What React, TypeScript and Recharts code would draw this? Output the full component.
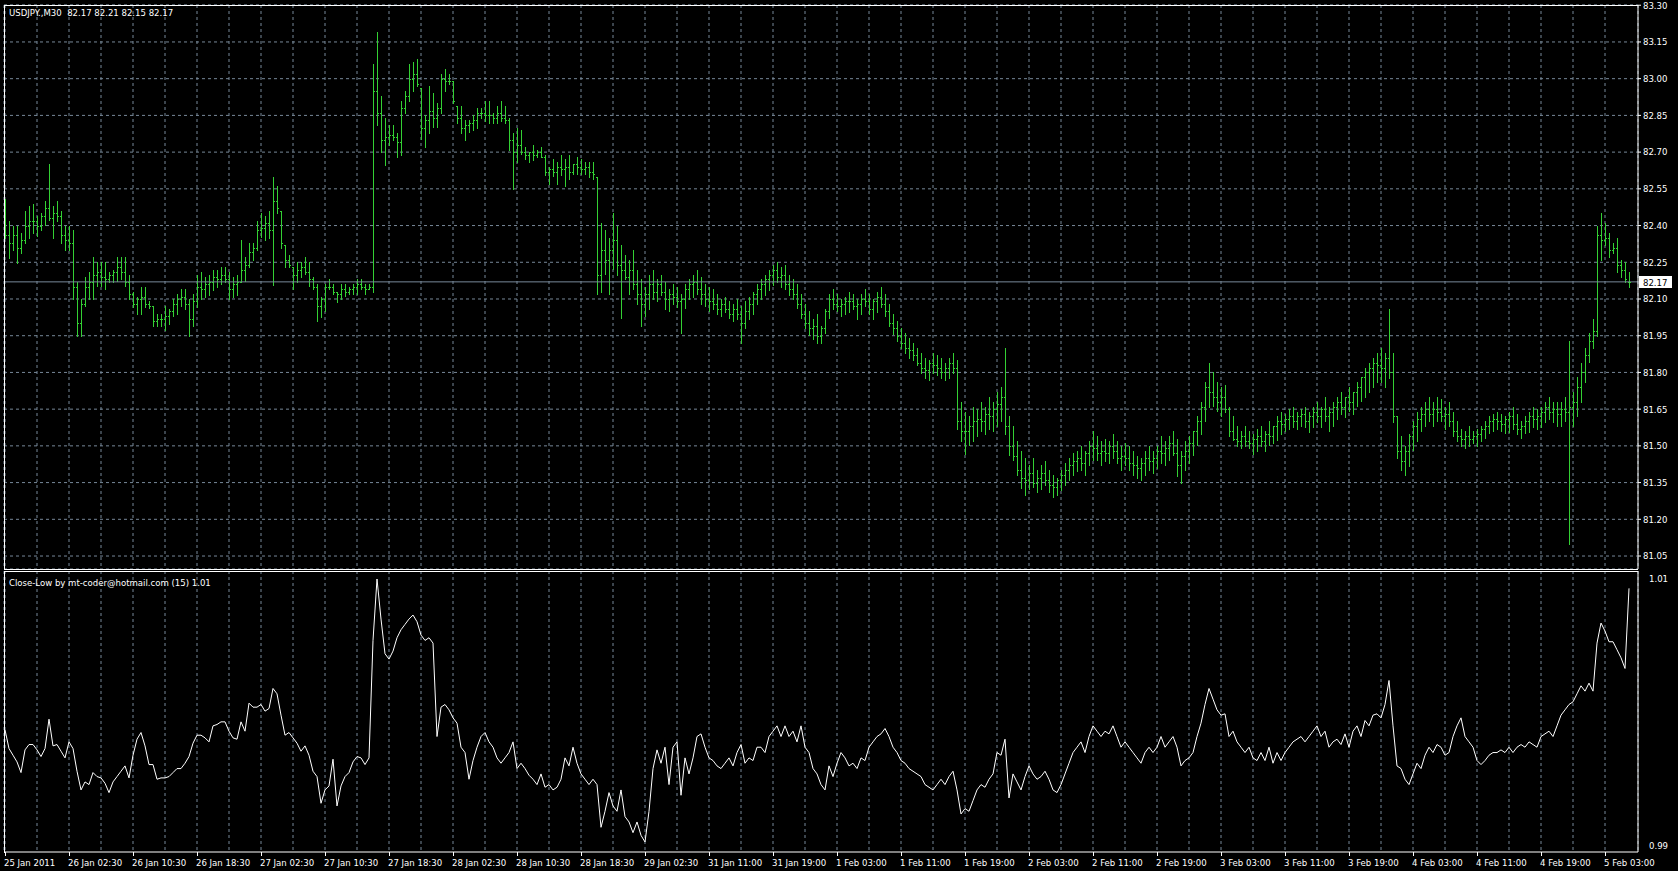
import { ComposedChart, Bar, Scatter, Line, XAxis, YAxis, CartesianGrid, ReferenceLine } from "recharts"

// USDJPY M30, one entry per bar (25 Jan 2011 18:30 .. 5 Feb 2011 03:00)
const highs = [
  82.51, 82.42, 82.40, 82.40, 82.37, 82.46, 82.48, 82.49, 82.44, 82.45,
  82.50, 82.65, 82.48, 82.50, 82.46, 82.40, 82.40, 82.38, 82.17, 82.10,
  82.19, 82.21, 82.27, 82.25, 82.25, 82.25, 82.21, 82.22, 82.27, 82.27,
  82.27, 82.20, 82.13, 82.11, 82.15, 82.15, 82.09, 82.07, 82.04, 82.04,
  82.07, 82.06, 82.10, 82.12, 82.14, 82.14, 82.10, 82.12, 82.20, 82.21,
  82.19, 82.20, 82.22, 82.22, 82.23, 82.23, 82.21, 82.19, 82.20, 82.34,
  82.27, 82.33, 82.33, 82.42, 82.45, 82.44, 82.46, 82.60, 82.56, 82.46,
  82.32, 82.28, 82.23, 82.25, 82.25, 82.27, 82.25, 82.19, 82.16, 82.11,
  82.16, 82.18, 82.16, 82.13, 82.16, 82.16, 82.15, 82.16, 82.18, 82.18,
  82.16, 82.16, 83.06, 83.19, 82.93, 82.84, 82.81, 82.81, 82.78, 82.91,
  82.95, 83.06, 83.07, 83.08, 82.96, 82.85, 82.97, 82.94, 82.90, 83.02,
  83.04, 83.02, 82.99, 82.89, 82.89, 82.83, 82.83, 82.85, 82.88, 82.88,
  82.91, 82.91, 82.86, 82.89, 82.91, 82.89, 82.84, 82.78, 82.80, 82.79,
  82.72, 82.70, 82.73, 82.71, 82.72, 82.69, 82.64, 82.67, 82.66, 82.69,
  82.67, 82.69, 82.65, 82.68, 82.67, 82.66, 82.66, 82.66, 82.60, 82.41,
  82.38, 82.35, 82.45, 82.40, 82.32, 82.28, 82.26, 82.30, 82.22, 82.18,
  82.15, 82.20, 82.22, 82.18, 82.20, 82.17, 82.14, 82.16, 82.15, 82.12,
  82.16, 82.18, 82.20, 82.22, 82.19, 82.16, 82.15, 82.14, 82.12, 82.10,
  82.11, 82.09, 82.08, 82.10, 82.07, 82.09, 82.11, 82.13, 82.16, 82.18,
  82.20, 82.22, 82.24, 82.25, 82.23, 82.24, 82.20, 82.18, 82.16, 82.12,
  82.08, 82.05, 82.02, 82.04, 81.99, 82.06, 82.12, 82.14, 82.12, 82.10,
  82.11, 82.13, 82.12, 82.10, 82.12, 82.14, 82.12, 82.10, 82.13, 82.15,
  82.12, 82.08, 82.04, 82.01, 81.98, 81.96, 81.94, 81.92, 81.90, 81.88,
  81.86, 81.85, 81.88, 81.87, 81.86, 81.84, 81.86, 81.88, 81.85, 81.68,
  81.64, 81.62, 81.66, 81.65, 81.68, 81.66, 81.70, 81.68, 81.72, 81.74,
  81.90, 81.62, 81.58, 81.52, 81.48, 81.45, 81.42, 81.45, 81.40, 81.42,
  81.44, 81.40, 81.38, 81.37, 81.40, 81.43, 81.45, 81.47, 81.48, 81.50,
  81.48, 81.52, 81.56, 81.54, 81.52, 81.53, 81.52, 81.55, 81.52, 81.50,
  81.51, 81.50, 81.48, 81.46, 81.45, 81.48, 81.50, 81.48, 81.50, 81.54,
  81.52, 81.54, 81.56, 81.53, 81.48, 81.52, 81.54, 81.56, 81.62, 81.68,
  81.76, 81.84, 81.80, 81.76, 81.74, 81.75, 81.66, 81.62, 81.58, 81.56,
  81.58, 81.56, 81.55, 81.57, 81.58, 81.56, 81.60, 81.58, 81.62, 81.64,
  81.63, 81.65, 81.66, 81.64, 81.65, 81.66, 81.64, 81.66, 81.68, 81.66,
  81.70, 81.66, 81.68, 81.70, 81.72, 81.70, 81.74, 81.72, 81.76, 81.78,
  81.82, 81.84, 81.86, 81.88, 81.90, 81.88, 82.06, 81.88, 81.62, 81.54,
  81.50, 81.55, 81.60, 81.64, 81.66, 81.68, 81.70, 81.68, 81.70, 81.69,
  81.66, 81.68, 81.64, 81.60, 81.57, 81.56, 81.58, 81.56, 81.57, 81.58,
  81.60, 81.62, 81.63, 81.64, 81.63, 81.62, 81.64, 81.66, 81.63, 81.60,
  81.62, 81.64, 81.66, 81.65, 81.66, 81.68, 81.70, 81.68, 81.68, 81.68,
  81.70, 81.93, 81.72, 81.78, 81.84, 81.90, 81.96, 82.02, 82.40, 82.45,
  82.41, 82.37, 82.33, 82.35, 82.26, 82.25, 82.21,
]

const lows = [
  82.35, 82.27, 82.30, 82.25, 82.29, 82.33, 82.35, 82.37, 82.36, 82.38,
  82.40, 82.42, 82.35, 82.42, 82.33, 82.30, 82.30, 82.10, 81.95, 81.95,
  82.07, 82.10, 82.10, 82.15, 82.15, 82.14, 82.17, 82.17, 82.17, 82.18,
  82.15, 82.10, 82.07, 82.04, 82.04, 82.07, 82.06, 81.99, 81.99, 81.99,
  81.97, 82.00, 82.03, 82.04, 82.07, 82.06, 81.95, 81.99, 82.07, 82.10,
  82.11, 82.12, 82.14, 82.15, 82.16, 82.17, 82.10, 82.11, 82.12, 82.17,
  82.17, 82.23, 82.26, 82.30, 82.35, 82.34, 82.35, 82.16, 82.45, 82.31,
  82.23, 82.23, 82.14, 82.17, 82.19, 82.20, 82.15, 82.14, 82.01, 82.03,
  82.05, 82.14, 82.12, 82.09, 82.10, 82.11, 82.12, 82.12, 82.12, 82.14,
  82.12, 82.14, 82.13, 82.81, 82.70, 82.65, 82.73, 82.75, 82.68, 82.69,
  82.86, 82.91, 82.95, 82.97, 82.75, 82.72, 82.78, 82.80, 82.80, 82.86,
  82.95, 82.98, 82.90, 82.82, 82.78, 82.75, 82.78, 82.79, 82.80, 82.84,
  82.83, 82.82, 82.82, 82.82, 82.83, 82.82, 82.71, 82.55, 82.66, 82.69,
  82.67, 82.66, 82.67, 82.68, 82.68, 82.61, 82.57, 82.60, 82.57, 82.61,
  82.56, 82.59, 82.61, 82.61, 82.61, 82.61, 82.60, 82.59, 82.12, 82.13,
  82.20, 82.12, 82.22, 82.20, 82.02, 82.18, 82.12, 82.14, 82.08, 81.99,
  82.03, 82.06, 82.10, 82.09, 82.12, 82.06, 82.05, 82.08, 82.07, 81.96,
  82.06, 82.10, 82.11, 82.12, 82.08, 82.07, 82.05, 82.06, 82.04, 82.03,
  82.05, 82.02, 82.01, 82.02, 81.92, 81.98, 82.02, 82.04, 82.08, 82.10,
  82.12, 82.14, 82.16, 82.17, 82.15, 82.14, 82.12, 82.10, 82.06, 82.02,
  81.98, 81.95, 81.94, 81.92, 81.92, 81.96, 82.02, 82.06, 82.05, 82.03,
  82.04, 82.05, 82.06, 82.02, 82.04, 82.07, 82.04, 82.02, 82.05, 82.07,
  82.03, 81.99, 81.96, 81.93, 81.90, 81.88, 81.86, 81.85, 81.83, 81.80,
  81.78, 81.77, 81.80, 81.79, 81.78, 81.77, 81.78, 81.80, 81.57, 81.52,
  81.47, 81.50, 81.52, 81.54, 81.56, 81.55, 81.57, 81.56, 81.58, 81.60,
  81.55, 81.46, 81.44, 81.38, 81.33, 81.30, 81.32, 81.33, 81.31, 81.32,
  81.34, 81.31, 81.29, 81.30, 81.32, 81.34, 81.36, 81.38, 81.40, 81.40,
  81.38, 81.42, 81.44, 81.44, 81.42, 81.44, 81.43, 81.45, 81.43, 81.40,
  81.42, 81.40, 81.38, 81.37, 81.36, 81.38, 81.40, 81.39, 81.41, 81.43,
  81.42, 81.44, 81.46, 81.38, 81.35, 81.40, 81.43, 81.46, 81.50, 81.55,
  81.60, 81.66, 81.66, 81.64, 81.62, 81.64, 81.54, 81.52, 81.50, 81.49,
  81.50, 81.49, 81.47, 81.48, 81.50, 81.48, 81.50, 81.51, 81.52, 81.55,
  81.56, 81.57, 81.58, 81.57, 81.58, 81.58, 81.56, 81.58, 81.60, 81.58,
  81.60, 81.56, 81.58, 81.61, 81.63, 81.62, 81.64, 81.63, 81.66, 81.68,
  81.70, 81.72, 81.74, 81.76, 81.76, 81.74, 81.78, 81.60, 81.45, 81.40,
  81.38, 81.42, 81.48, 81.52, 81.56, 81.58, 81.60, 81.58, 81.60, 81.60,
  81.57, 81.58, 81.54, 81.52, 81.50, 81.49, 81.50, 81.51, 81.50, 81.52,
  81.53, 81.55, 81.56, 81.57, 81.56, 81.55, 81.56, 81.57, 81.55, 81.53,
  81.55, 81.56, 81.58, 81.57, 81.58, 81.60, 81.61, 81.60, 81.58, 81.58,
  81.60, 81.10, 81.58, 81.62, 81.68, 81.76, 81.84, 81.90, 81.95, 82.26,
  82.32, 82.27, 82.29, 82.21, 82.19, 82.17, 82.15,
]

const opens = [
  82.42, 82.36, 82.33, 82.36, 82.31, 82.34, 82.40, 82.42, 82.42, 82.40,
  82.44, 82.47, 82.43, 82.45, 82.44, 82.36, 82.34, 82.33, 82.15, 82.00,
  82.08, 82.15, 82.17, 82.20, 82.21, 82.19, 82.18, 82.20, 82.21, 82.23,
  82.21, 82.17, 82.12, 82.08, 82.10, 82.11, 82.08, 82.07, 82.01, 82.02,
  82.02, 82.03, 82.05, 82.08, 82.10, 82.11, 82.08, 82.02, 82.09, 82.15,
  82.14, 82.16, 82.17, 82.19, 82.18, 82.20, 82.18, 82.14, 82.16, 82.17,
  82.22, 82.24, 82.29, 82.31, 82.38, 82.39, 82.41, 82.38, 82.50, 82.46,
  82.32, 82.26, 82.23, 82.20, 82.22, 82.23, 82.21, 82.18, 82.15, 82.07,
  82.10, 82.15, 82.15, 82.13, 82.12, 82.14, 82.13, 82.14, 82.15, 82.16,
  82.15, 82.14, 82.15, 82.95, 82.86, 82.75, 82.76, 82.77, 82.76, 82.74,
  82.88, 82.93, 83.00, 83.02, 82.96, 82.80, 82.83, 82.87, 82.84, 82.88,
  83.00, 82.99, 82.99, 82.89, 82.84, 82.80, 82.81, 82.82, 82.83, 82.86,
  82.86, 82.85, 82.85, 82.84, 82.86, 82.84, 82.83, 82.75, 82.70, 82.73,
  82.70, 82.69, 82.70, 82.69, 82.70, 82.68, 82.62, 82.63, 82.62, 82.64,
  82.63, 82.64, 82.62, 82.65, 82.64, 82.63, 82.64, 82.62, 82.60, 82.20,
  82.30, 82.26, 82.30, 82.34, 82.24, 82.22, 82.19, 82.22, 82.16, 82.12,
  82.08, 82.12, 82.16, 82.13, 82.16, 82.13, 82.10, 82.12, 82.11, 82.09,
  82.10, 82.14, 82.16, 82.17, 82.14, 82.12, 82.10, 82.09, 82.08, 82.06,
  82.08, 82.06, 82.04, 82.06, 82.04, 82.00, 82.05, 82.08, 82.12, 82.14,
  82.16, 82.18, 82.20, 82.22, 82.19, 82.20, 82.16, 82.14, 82.12, 82.08,
  82.04, 82.00, 81.98, 81.99, 81.95, 81.98, 82.05, 82.10, 82.08, 82.07,
  82.08, 82.09, 82.09, 82.07, 82.08, 82.10, 82.09, 82.06, 82.09, 82.11,
  82.08, 82.05, 82.00, 81.98, 81.95, 81.92, 81.90, 81.89, 81.87, 81.84,
  81.82, 81.81, 81.84, 81.83, 81.82, 81.80, 81.82, 81.84, 81.82, 81.60,
  81.56, 81.56, 81.58, 81.60, 81.61, 81.60, 81.63, 81.62, 81.65, 81.67,
  81.70, 81.58, 81.50, 81.46, 81.40, 81.37, 81.36, 81.39, 81.35, 81.37,
  81.39, 81.36, 81.34, 81.33, 81.36, 81.38, 81.40, 81.42, 81.44, 81.45,
  81.43, 81.47, 81.50, 81.49, 81.47, 81.48, 81.47, 81.50, 81.48, 81.45,
  81.46, 81.45, 81.43, 81.42, 81.41, 81.43, 81.45, 81.44, 81.45, 81.48,
  81.47, 81.49, 81.51, 81.47, 81.42, 81.46, 81.48, 81.51, 81.56, 81.60,
  81.66, 81.74, 81.72, 81.70, 81.68, 81.70, 81.65, 81.56, 81.53, 81.52,
  81.54, 81.52, 81.51, 81.53, 81.54, 81.52, 81.55, 81.54, 81.58, 81.60,
  81.59, 81.61, 81.62, 81.60, 81.62, 81.63, 81.60, 81.62, 81.64, 81.62,
  81.65, 81.62, 81.64, 81.66, 81.68, 81.66, 81.70, 81.68, 81.72, 81.74,
  81.78, 81.80, 81.82, 81.84, 81.83, 81.82, 81.86, 81.80, 81.62, 81.48,
  81.44, 81.48, 81.54, 81.58, 81.61, 81.63, 81.65, 81.63, 81.65, 81.64,
  81.62, 81.63, 81.60, 81.56, 81.54, 81.53, 81.54, 81.53, 81.54, 81.55,
  81.57, 81.58, 81.60, 81.61, 81.60, 81.59, 81.61, 81.62, 81.59, 81.57,
  81.58, 81.60, 81.62, 81.61, 81.62, 81.64, 81.66, 81.64, 81.65, 81.63,
  81.65, 81.64, 81.66, 81.68, 81.74, 81.80, 81.87, 81.93, 81.97, 82.36,
  82.34, 82.35, 82.30, 82.31, 82.24, 82.22, 82.17,
]

const closes = [
  82.36, 82.33, 82.36, 82.31, 82.34, 82.40, 82.42, 82.42, 82.40, 82.44,
  82.47, 82.43, 82.45, 82.44, 82.36, 82.34, 82.33, 82.15, 82.00, 82.08,
  82.15, 82.17, 82.20, 82.21, 82.19, 82.18, 82.20, 82.21, 82.23, 82.21,
  82.17, 82.12, 82.08, 82.10, 82.11, 82.08, 82.07, 82.01, 82.02, 82.02,
  82.03, 82.05, 82.08, 82.10, 82.11, 82.08, 82.02, 82.09, 82.15, 82.14,
  82.16, 82.17, 82.19, 82.18, 82.20, 82.18, 82.14, 82.16, 82.17, 82.22,
  82.24, 82.29, 82.31, 82.38, 82.39, 82.41, 82.38, 82.50, 82.47, 82.33,
  82.26, 82.24, 82.20, 82.22, 82.23, 82.21, 82.18, 82.15, 82.07, 82.10,
  82.15, 82.15, 82.13, 82.12, 82.14, 82.13, 82.14, 82.15, 82.16, 82.15,
  82.14, 82.15, 82.95, 82.86, 82.75, 82.76, 82.77, 82.76, 82.74, 82.88,
  82.93, 83.00, 83.02, 82.98, 82.80, 82.83, 82.87, 82.84, 82.88, 83.00,
  82.99, 82.99, 82.91, 82.84, 82.80, 82.81, 82.82, 82.83, 82.86, 82.86,
  82.85, 82.85, 82.84, 82.86, 82.84, 82.83, 82.75, 82.70, 82.73, 82.70,
  82.69, 82.70, 82.69, 82.70, 82.68, 82.62, 82.63, 82.62, 82.64, 82.63,
  82.64, 82.62, 82.65, 82.64, 82.63, 82.64, 82.62, 82.61, 82.20, 82.30,
  82.26, 82.30, 82.34, 82.24, 82.22, 82.19, 82.22, 82.16, 82.12, 82.08,
  82.12, 82.16, 82.13, 82.16, 82.13, 82.10, 82.12, 82.11, 82.09, 82.10,
  82.14, 82.16, 82.17, 82.14, 82.12, 82.10, 82.09, 82.08, 82.06, 82.08,
  82.06, 82.04, 82.06, 82.04, 82.00, 82.05, 82.08, 82.12, 82.14, 82.16,
  82.18, 82.20, 82.22, 82.19, 82.20, 82.16, 82.14, 82.12, 82.08, 82.04,
  82.00, 81.98, 81.99, 81.95, 81.98, 82.05, 82.10, 82.08, 82.07, 82.08,
  82.09, 82.09, 82.07, 82.08, 82.10, 82.09, 82.06, 82.09, 82.11, 82.08,
  82.05, 82.00, 81.98, 81.95, 81.92, 81.90, 81.89, 81.87, 81.84, 81.82,
  81.81, 81.84, 81.83, 81.82, 81.80, 81.82, 81.84, 81.82, 81.60, 81.56,
  81.56, 81.58, 81.60, 81.61, 81.60, 81.63, 81.62, 81.65, 81.67, 81.70,
  81.58, 81.50, 81.46, 81.40, 81.37, 81.36, 81.39, 81.35, 81.37, 81.39,
  81.36, 81.34, 81.33, 81.36, 81.38, 81.40, 81.42, 81.44, 81.45, 81.43,
  81.47, 81.50, 81.49, 81.47, 81.48, 81.47, 81.50, 81.48, 81.45, 81.46,
  81.45, 81.43, 81.42, 81.41, 81.43, 81.45, 81.44, 81.45, 81.48, 81.47,
  81.49, 81.51, 81.47, 81.42, 81.46, 81.48, 81.51, 81.56, 81.60, 81.66,
  81.74, 81.72, 81.70, 81.68, 81.70, 81.65, 81.56, 81.53, 81.52, 81.54,
  81.52, 81.51, 81.53, 81.54, 81.52, 81.55, 81.54, 81.58, 81.60, 81.59,
  81.61, 81.62, 81.60, 81.62, 81.63, 81.60, 81.62, 81.64, 81.62, 81.65,
  81.62, 81.64, 81.66, 81.68, 81.66, 81.70, 81.68, 81.72, 81.74, 81.78,
  81.80, 81.82, 81.84, 81.83, 81.82, 81.86, 81.80, 81.62, 81.48, 81.44,
  81.48, 81.54, 81.58, 81.61, 81.63, 81.65, 81.63, 81.65, 81.64, 81.62,
  81.63, 81.60, 81.56, 81.54, 81.53, 81.54, 81.53, 81.54, 81.55, 81.57,
  81.58, 81.60, 81.61, 81.60, 81.59, 81.61, 81.62, 81.59, 81.57, 81.58,
  81.60, 81.62, 81.61, 81.62, 81.64, 81.66, 81.64, 81.65, 81.63, 81.65,
  81.64, 81.66, 81.68, 81.74, 81.80, 81.87, 81.93, 81.97, 82.36, 82.34,
  82.35, 82.30, 82.31, 82.24, 82.22, 82.18, 82.17,
]

// Close-Low (15) indicator
const closeLow = [
  0.9987, 0.9973, 0.9968, 0.9963, 0.9955, 0.9972, 0.9976, 0.9976, 0.9972, 0.9967,
  0.9973, 0.9995, 0.9975, 0.9976, 0.9971, 0.9966, 0.9978, 0.9973, 0.9956, 0.9942,
  0.9948, 0.9946, 0.9955, 0.9952, 0.9951, 0.9947, 0.9940, 0.9948, 0.9952, 0.9956,
  0.9960, 0.9951, 0.9968, 0.9980, 0.9985, 0.9975, 0.9961, 0.9961, 0.9950, 0.9951,
  0.9951, 0.9952, 0.9955, 0.9958, 0.9958, 0.9962, 0.9967, 0.9977, 0.9983, 0.9983,
  0.9981, 0.9978, 0.9990, 0.9991, 0.9993, 0.9993, 0.9986, 0.9981, 0.9980, 0.9993,
  0.9986, 1.0007, 1.0004, 1.0004, 1.0006, 1.0001, 1.0003, 1.0018, 1.0014, 0.9998,
  0.9983, 0.9985, 0.9981, 0.9977, 0.9971, 0.9975, 0.9968, 0.9956, 0.9952, 0.9932,
  0.9942, 0.9945, 0.9965, 0.9930, 0.9945, 0.9952, 0.9955, 0.9963, 0.9967, 0.9966,
  0.9961, 0.9966, 1.0054, 1.0100, 1.0070, 1.0044, 1.0040, 1.0046, 1.0056, 1.0062,
  1.0066, 1.0070, 1.0073, 1.0068, 1.0058, 1.0054, 1.0056, 1.0052, 0.9982, 1.0004,
  1.0006, 1.0002, 0.9996, 0.9992, 0.9974, 0.9970, 0.9950, 0.9964, 0.9974, 0.9982,
  0.9985, 0.9978, 0.9974, 0.9966, 0.9962, 0.9966, 0.9970, 0.9978, 0.9958, 0.9962,
  0.9958, 0.9953, 0.9950, 0.9946, 0.9954, 0.9944, 0.9946, 0.9942, 0.9944, 0.9950,
  0.9966, 0.9960, 0.9974, 0.9962, 0.9954, 0.9950, 0.9946, 0.9950, 0.9946, 0.9914,
  0.9926, 0.9940, 0.9930, 0.9926, 0.9942, 0.9922, 0.9918, 0.9910, 0.9918, 0.9908,
  0.9903, 0.9926, 0.9958, 0.9972, 0.9962, 0.9974, 0.9946, 0.9974, 0.9978, 0.9938,
  0.9966, 0.9954, 0.9966, 0.9982, 0.9984, 0.9974, 0.9966, 0.9964, 0.9960, 0.9958,
  0.9962, 0.9966, 0.9960, 0.9970, 0.9976, 0.9962, 0.9966, 0.9964, 0.9974, 0.9974,
  0.9970, 0.9982, 0.9986, 0.9990, 0.9982, 0.9990, 0.9982, 0.9986, 0.9978, 0.9990,
  0.9974, 0.9970, 0.9958, 0.9954, 0.9946, 0.9942, 0.9960, 0.9952, 0.9962, 0.9970,
  0.9966, 0.9960, 0.9962, 0.9958, 0.9966, 0.9964, 0.9974, 0.9978, 0.9982, 0.9984,
  0.9988, 0.9982, 0.9974, 0.9970, 0.9964, 0.9962, 0.9958, 0.9956, 0.9954, 0.9952,
  0.9946, 0.9944, 0.9942, 0.9946, 0.9950, 0.9946, 0.9952, 0.9956, 0.9942, 0.9924,
  0.9928, 0.9926, 0.9934, 0.9942, 0.9946, 0.9944, 0.9950, 0.9954, 0.9970, 0.9968,
  0.9980, 0.9936, 0.9954, 0.9948, 0.9942, 0.9952, 0.9960, 0.9954, 0.9950, 0.9952,
  0.9956, 0.9950, 0.9942, 0.9940, 0.9946, 0.9954, 0.9962, 0.9970, 0.9974, 0.9978,
  0.9970, 0.9982, 0.9990, 0.9986, 0.9982, 0.9986, 0.9984, 0.9990, 0.9982, 0.9974,
  0.9978, 0.9974, 0.9970, 0.9966, 0.9962, 0.9970, 0.9974, 0.9970, 0.9974, 0.9982,
  0.9974, 0.9978, 0.9982, 0.9974, 0.9960, 0.9964, 0.9966, 0.9970, 0.9982, 0.9992,
  1.0006, 1.0018, 1.0010, 1.0002, 0.9998, 0.9999, 0.9982, 0.9986, 0.9978, 0.9974,
  0.9970, 0.9974, 0.9966, 0.9964, 0.9970, 0.9964, 0.9974, 0.9962, 0.9970, 0.9964,
  0.9970, 0.9974, 0.9978, 0.9980, 0.9982, 0.9978, 0.9982, 0.9986, 0.9990, 0.9982,
  0.9986, 0.9974, 0.9978, 0.9980, 0.9976, 0.9984, 0.9974, 0.9986, 0.9990, 0.9982,
  0.9994, 0.9990, 0.9998, 0.9999, 0.9996, 1.0006, 1.0024, 0.9990, 0.9960, 0.9958,
  0.9950, 0.9946, 0.9954, 0.9962, 0.9958, 0.9968, 0.9974, 0.9970, 0.9976, 0.9974,
  0.9968, 0.9970, 0.9982, 0.9990, 0.9996, 0.9982, 0.9978, 0.9974, 0.9964, 0.9961,
  0.9964, 0.9968, 0.9970, 0.9970, 0.9972, 0.9970, 0.9974, 0.9970, 0.9974, 0.9976,
  0.9974, 0.9978, 0.9976, 0.9974, 0.9982, 0.9984, 0.9986, 0.9982, 0.9990, 0.9998,
  1.0002, 1.0006, 1.0008, 1.0014, 1.0020, 1.0016, 1.0022, 1.0016, 1.0052, 1.0067,
  1.0061, 1.0053, 1.0053, 1.0047, 1.0041, 1.0033, 1.0093,
]

const timeLabels = [
  "25 Jan 2011", "26 Jan 02:30", "26 Jan 10:30", "26 Jan 18:30", "27 Jan 02:30",
  "27 Jan 10:30", "27 Jan 18:30", "28 Jan 02:30", "28 Jan 10:30", "28 Jan 18:30",
  "29 Jan 02:30", "31 Jan 11:00", "31 Jan 19:00", "1 Feb 03:00", "1 Feb 11:00",
  "1 Feb 19:00", "2 Feb 03:00", "2 Feb 11:00", "2 Feb 19:00", "3 Feb 03:00",
  "3 Feb 11:00", "3 Feb 19:00", "4 Feb 03:00", "4 Feb 11:00", "4 Feb 19:00",
  "5 Feb 03:00",
]

const priceTicks = [
  81.05, 81.2, 81.35, 81.5, 81.65, 81.8, 81.95, 82.1, 82.25, 82.4, 82.55, 82.7, 82.85, 83.0, 83.15, 83.3,
]
const indicatorTicks = [0.99, 1.01]

const FONT = "'DejaVu Sans Condensed', 'Liberation Sans', sans-serif"
const GREEN = "#33d033"
const GRID = "#778899"
const W = 1678

const rows = highs.map((h, i) => ({
  i,
  range: [lows[i], h],
  open: opens[i],
  close: closes[i],
  ind: closeLow[i],
}))

const gridTicks = Array.from({ length: 51 }, (_, k) => k * 8)
const lastClose = closes[closes.length - 1]
const lastInd = closeLow[closeLow.length - 1]

function HighLow(props: any) {
  const { x, y, width, height } = props
  if (x == null || y == null) return <g />
  const cx = Math.round(x + width / 2)
  const top = Math.round(Math.min(y, y + height))
  const len = Math.round(Math.abs(height))
  return <rect x={cx} y={top} width={1} height={len + 1} fill={GREEN} />
}

function OpenTick(props: any) {
  const { cx, cy } = props
  if (cx == null) return <g />
  return <rect x={Math.round(cx) - 1} y={Math.round(cy)} width={1} height={1} fill={GREEN} />
}

function CloseTick(props: any) {
  const { cx, cy } = props
  if (cx == null) return <g />
  return <rect x={Math.round(cx) + 1} y={Math.round(cy)} width={1} height={1} fill={GREEN} />
}

function BidLabel(props: any) {
  const { viewBox } = props
  if (!viewBox) return <g />
  const bx = viewBox.x + viewBox.width + 1
  const by = Math.round(viewBox.y)
  return (
    <g>
      <rect x={bx} y={by - 6} width={33} height={12} fill="#fff" />
      <text x={bx + 4} y={by + 4} fill="#000" fontSize={9.5} fontFamily={FONT}>
        {lastClose.toFixed(2)}
      </text>
    </g>
  )
}

function TimeTick(props: any) {
  const { x, y, payload } = props
  const i = payload.value
  if (i % 16 !== 0) return <g />
  const px = Math.round(x)
  return (
    <g>
      <rect x={px} y={y} width={1} height={4} fill="#fff" />
      <text x={px - 1} y={y + 14} fill="#fff" fontSize={9.5} fontFamily={FONT}>
        {timeLabels[i / 16]}
      </text>
    </g>
  )
}

const textStyle: any = {
  position: "absolute",
  color: "#fff",
  fontFamily: FONT,
  fontSize: 9.5,
  lineHeight: "11px",
  whiteSpace: "pre",
}

export default function App() {
  return (
    <div style={{ position: "fixed", left: 0, top: 0, width: W, height: 871, background: "#000", overflow: "hidden" }}>
      <div style={{ position: "absolute", left: 0, top: 0 }}>
        <ComposedChart width={W} height={570} data={rows} margin={{ top: 5, right: 0, bottom: 1, left: 4 }}>
          <CartesianGrid stroke={GRID} strokeDasharray="3 3" />
          <XAxis dataKey="i" type="number" domain={[-0.25, 408.25]} allowDataOverflow ticks={gridTicks} hide />
          <YAxis
            orientation="right"
            width={40}
            domain={[80.997, 83.301]}
            allowDataOverflow
            ticks={priceTicks}
            interval={0}
            tickSize={3}
            tickMargin={2}
            axisLine={{ stroke: "#fff" }}
            tickLine={{ stroke: "#fff" }}
            tick={{ fill: "#fff", fontSize: 9.5, fontFamily: FONT }}
            tickFormatter={(v: number) => v.toFixed(2)}
          />
          <ReferenceLine y={lastClose} stroke={GRID} label={<BidLabel />} />
          <Bar dataKey="range" barSize={1} shape={(p: any) => <HighLow {...p} />} isAnimationActive={false} />
          <Scatter dataKey="open" shape={(p: any) => <OpenTick {...p} />} isAnimationActive={false} />
          <Scatter dataKey="close" shape={(p: any) => <CloseTick {...p} />} isAnimationActive={false} />
        </ComposedChart>
      </div>
      <div style={{ position: "absolute", left: 0, top: 571 }}>
        <ComposedChart width={W} height={300} data={rows} margin={{ top: 0, right: 0, bottom: 0, left: 4 }}>
          <CartesianGrid stroke={GRID} strokeDasharray="3 3" horizontal={false} />
          <XAxis
            dataKey="i"
            type="number"
            domain={[-0.25, 408.25]}
            allowDataOverflow
            ticks={gridTicks}
            interval={0}
            height={19}
            tickSize={0}
            tickMargin={0}
            tickLine={false}
            axisLine={{ stroke: "#fff" }}
            tick={(p: any) => <TimeTick {...p} />}
          />
          <YAxis
            orientation="right"
            width={40}
            domain={[0.98955, 1.0106]}
            allowDataOverflow
            ticks={indicatorTicks}
            interval={0}
            tickLine={false}
            tickMargin={5}
            axisLine={{ stroke: "#fff" }}
            tick={{ fill: "#fff", fontSize: 9.5, fontFamily: FONT }}
            tickFormatter={(v: number) => v.toFixed(2)}
          />
          <Line dataKey="ind" type="linear" stroke="#fff" strokeWidth={1} dot={false} isAnimationActive={false} />
        </ComposedChart>
      </div>
      {/* panel frames */}
      <div style={{ position: "absolute", left: 4, top: 5, width: 1634, height: 565, boxSizing: "border-box", borderLeft: "1px solid #fff", borderTop: "1px solid #fff", borderBottom: "1px solid #fff" }} />
      <div style={{ position: "absolute", left: 4, top: 571, width: 1634, height: 282, boxSizing: "border-box", borderLeft: "1px solid #fff", borderTop: "1px solid #fff" }} />
      <div style={{ ...textStyle, left: 9, top: 7 }}>{"USDJPY.,M30  82.17 82.21 82.15 82.17"}</div>
      <div style={{ ...textStyle, left: 9, top: 577 }}>{`Close-Low by mt-coder@hotmail.com (15) ${lastInd.toFixed(2)}`}</div>
    </div>
  )
}
